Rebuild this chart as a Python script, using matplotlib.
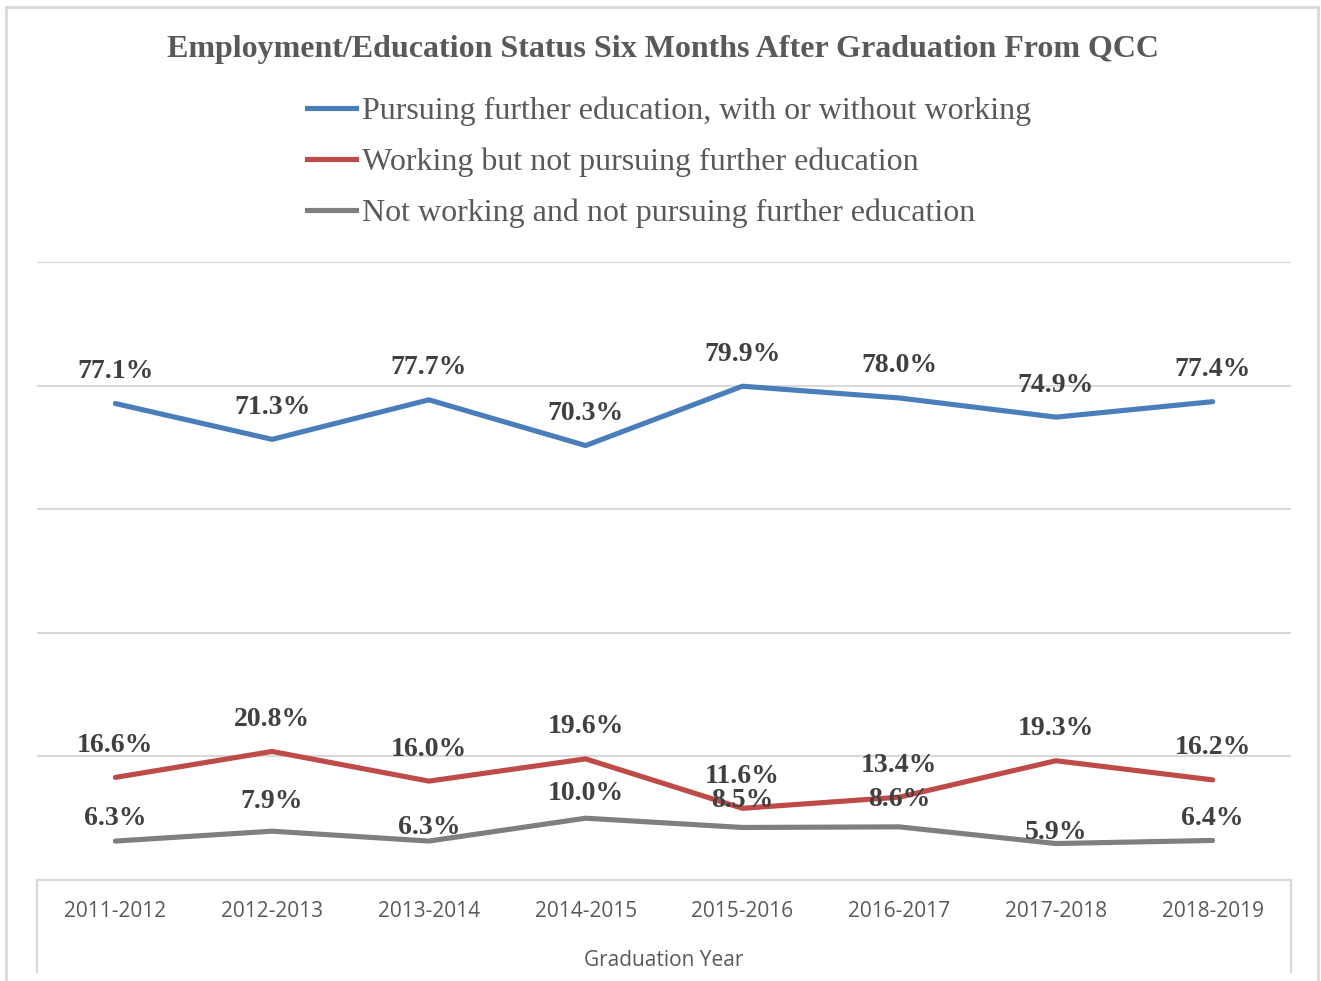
import numpy as np
import matplotlib.pyplot as plt
from matplotlib.lines import Line2D

# Données
annees = ["2011-2012", "2012-2013", "2013-2014", "2014-2015",
          "2015-2016", "2016-2017", "2017-2018", "2018-2019"]
etudes = [77.1, 71.3, 77.7, 70.3, 79.9, 78.0, 74.9, 77.4]
travail = [16.6, 20.8, 16.0, 19.6, 11.6, 13.4, 19.3, 16.2]
sans_rien = [6.3, 7.9, 6.3, 10.0, 8.5, 8.6, 5.9, 6.4]
noms = ["Pursuing further education, with or without working",
        "Working but not pursuing further education",
        "Not working and not pursuing further education"]

couleurs = ["#4a7ebb", "#be4b48", "#7f7f7f"]
# décalage vertical des étiquettes (en pixels)
decal_gris = [23, 30, 14, 25, 27, 27, 11, 22]

W, H = 1321, 981
fig = plt.figure(figsize=(W / 100, H / 100), dpi=100)
ax = fig.add_axes([37 / W, 1 - 880 / H, (1291 - 37) / W, (880 - 262) / H])

x = np.arange(len(annees))
series = [etudes, travail, sans_rien]
decalages = [[32] * 8, [32] * 8, decal_gris]
for vals, c, dec in zip(series, couleurs, decalages):
    ax.plot(x, vals, color=c, lw=3.7, solid_capstyle="round", zorder=3)
    for xi, v, d in zip(x, vals, dec):
        ax.annotate(f"{v:.1f}%", (xi, v), xytext=(0, d * 0.72),
                    textcoords="offset points", ha="center", va="center",
                    fontsize=20, fontweight="bold", family="Liberation Serif",
                    color="#404040", zorder=4)

ax.set_xlim(-0.5, 7.5)
ax.set_ylim(0, 100)
ax.set_yticks([0, 20, 40, 60, 80, 100])
ax.yaxis.grid(True, color="#d9d9d9", lw=1.5)
ax.set_yticklabels([])
ax.tick_params(axis="y", length=0)
ax.set_xticks(x)
ax.set_xticklabels(annees, family="Open Sans", fontsize=15, color="#595959")
ax.tick_params(axis="x", length=0, pad=15)
ax.set_xlabel("Graduation Year", family="Open Sans", fontsize=15,
              color="#595959", labelpad=20)
for s in ax.spines.values():
    s.set_visible(False)
ax.set_axisbelow(True)

# cadre de l'axe des catégories
def ligne(x0, y0, x1, y1, c="#d9d9d9", lw=1.5):
    fig.add_artist(Line2D([x0 / W, x1 / W], [1 - y0 / H, 1 - y1 / H],
                          color=c, lw=lw))

ligne(37, 880, 1291, 880)
ligne(37, 880, 37, 972)
ligne(1291, 880, 1291, 972)
# cadre extérieur
ligne(6, 7, 1318, 7, lw=2)
ligne(6, 7, 6, 981, lw=2)
ligne(1318, 7, 1318, 981, lw=2)

fig.text(663 / W, 1 - 49 / H,
         "Employment/Education Status Six Months After Graduation From QCC",
         ha="center", va="center", family="Liberation Serif",
         fontweight="bold", fontsize=23, color="#595959")

for i, (nom, c) in enumerate(zip(noms, couleurs)):
    y = 108 + 51 * i
    ligne(307, y, 356, y, c=c, lw=3.7)
    fig.text(362 / W, 1 - (y + 3) / H, nom, ha="left", va="center",
             family="Liberation Serif", fontsize=23, color="#595959")

fig.savefig("out.png", dpi=100)
